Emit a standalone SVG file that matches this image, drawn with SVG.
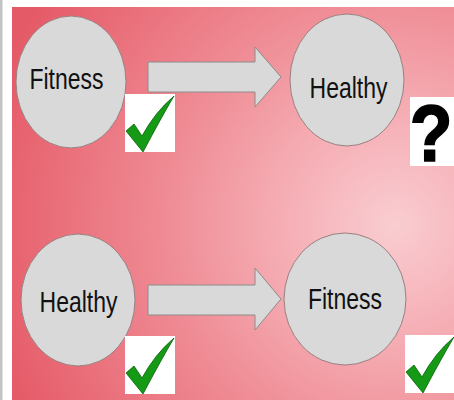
<svg xmlns="http://www.w3.org/2000/svg" xmlns:xlink="http://www.w3.org/1999/xlink" width="454" height="400" viewBox="0 0 454 400">
  <style>
    .node { fill: #d9d9d9; stroke: #9a7f80; stroke-width: 1; }
    .lbl { font-family: "Liberation Sans", Arial, sans-serif; font-size: 23px; fill: #111111; text-anchor: middle; }
    .arrow { fill: #d9d9d9; stroke: #8c8c8c; stroke-width: 1; }
    .box { fill: #ffffff; }
    .q { font-family: "Liberation Sans", Arial, sans-serif; font-weight: bold; font-size: 70px; fill: #000; text-anchor: middle; stroke: #000; stroke-width: 1.5; }
  </style>
  <defs>
    <radialGradient id="bg" gradientUnits="userSpaceOnUse" cx="395" cy="225" r="420">
      <stop offset="0" stop-color="#f9cdd1"/>
      <stop offset="0.3" stop-color="#f5aab1"/>
      <stop offset="0.55" stop-color="#ef8b94"/>
      <stop offset="1" stop-color="#e55a67"/>
    </radialGradient>
    <g id="check">
      <rect class="box" x="0" y="0" width="50" height="58"/>
      <path d="M1,37 L9,30 L17,42 Q30,18 49,2 Q36,24 18,58 Z" fill="#149a14" stroke="#0b5e0b" stroke-width="0.8" stroke-linejoin="round"/>
    </g>
  </defs>

  <rect x="0" y="0" width="454" height="400" fill="#ffffff"/>
  <rect x="0" y="0" width="2.5" height="400" fill="#c4c4c4"/>
  <rect x="12" y="7" width="442" height="393" fill="url(#bg)"/>

  <g id="connectors">
    <polygon class="arrow" points="148,62 255,62 255,47 281,77 255,107 255,92 148,92"/>
    <polygon class="arrow" points="148,285 255,285 255,268 281,299 255,330 255,315 148,315"/>
  </g>

  <g id="node-fitness-top">
    <ellipse class="node" cx="71" cy="82" rx="55" ry="66"/>
    <text class="lbl" transform="translate(66.5,89) scale(1,1.25)">Fitness</text>
  </g>
  <g id="node-healthy-top">
    <ellipse class="node" cx="347" cy="80" rx="57" ry="66"/>
    <text class="lbl" transform="translate(348.5,98) scale(1,1.25)">Healthy</text>
  </g>
  <g id="node-healthy-bottom">
    <ellipse class="node" cx="78" cy="300" rx="57" ry="66"/>
    <text class="lbl" transform="translate(78.5,312) scale(1,1.25)">Healthy</text>
  </g>
  <g id="node-fitness-bottom">
    <ellipse class="node" cx="345" cy="299" rx="61" ry="66"/>
    <text class="lbl" transform="translate(345,309) scale(1,1.25)">Fitness</text>
  </g>

  <g id="marks">
    <use xlink:href="#check" href="#check" x="125" y="94"/>
    <use xlink:href="#check" href="#check" x="125" y="336"/>
    <use xlink:href="#check" href="#check" x="405" y="335"/>
    <g id="question">
      <rect class="box" x="410" y="97" width="44" height="69"/>
      <text class="q" transform="translate(431,161) scale(1,1.15)">?</text>
    </g>
  </g>
</svg>
